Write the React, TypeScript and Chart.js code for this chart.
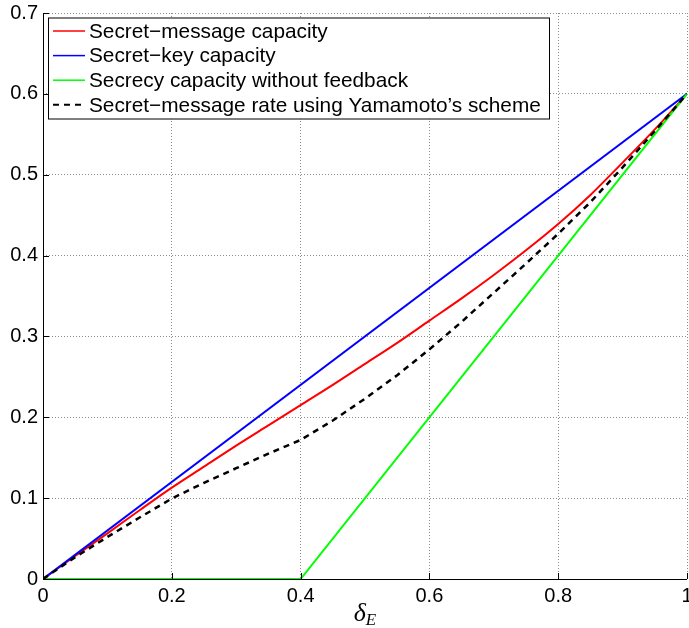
import React, { useEffect, useRef } from "react";
import { Chart, registerables } from "chart.js";

Chart.register(...registerables);

// ---- data ----
const deltaE = [0, 0.05, 0.1, 0.15, 0.2, 0.25, 0.3, 0.35, 0.4, 0.45, 0.5, 0.55, 0.6, 0.65, 0.7, 0.75, 0.8, 0.85, 0.9, 0.95, 1];
const secretMessageCapacity = [0, 0.0285, 0.0565, 0.085, 0.113, 0.139, 0.165, 0.19, 0.215, 0.24, 0.266, 0.292, 0.3195, 0.347, 0.376, 0.4065, 0.439, 0.475, 0.515, 0.556, 0.6];
const yamamotoRate = [0, 0.027, 0.052, 0.076, 0.0995, 0.119, 0.137, 0.155, 0.172, 0.196, 0.223, 0.252, 0.284, 0.318, 0.354, 0.39, 0.427, 0.466, 0.509, 0.554, 0.6];
const secretKeyX = [0, 1];
const secretKeyCapacity = [0, 0.6];
const noFeedbackX = [0, 0.4, 1];
const noFeedbackCapacity = [0, 0, 0.6];

const seriesLabels = [
  "Secret\u2212message capacity",
  "Secret\u2212key capacity",
  "Secrecy capacity without feedback",
  "Secret\u2212message rate using Yamamoto\u2019s scheme",
];

const xTickValues = [0, 0.2, 0.4, 0.6, 0.8, 1];
const xTickLabels = ["0", "0.2", "0.4", "0.6", "0.8", "1"];
const yTickValues = [0, 0.1, 0.2, 0.3, 0.4, 0.5, 0.6, 0.7];
const yTickLabels = ["0", "0.1", "0.2", "0.3", "0.4", "0.5", "0.6", "0.7"];

const toPoints = (xs: number[], ys: number[]) => xs.map((x, i) => ({ x, y: ys[i] }));

const FONT = "'Liberation Sans', Arial, Helvetica, sans-serif";

const legendPlugin = {
  id: "matlabLegend",
  afterDraw(chart: any) {
    const ctx = chart.ctx as CanvasRenderingContext2D;
    const bx = 48, by = 17.5, bw = 501, bh = 101;
    ctx.save();
    ctx.fillStyle = "#ffffff";
    ctx.fillRect(bx, by, bw, bh);
    ctx.strokeStyle = "#000000";
    ctx.lineWidth = 1;
    ctx.setLineDash([]);
    ctx.strokeRect(bx + 0.5, by + 0.5, bw, bh);
    ctx.font = `20.8px ${FONT}`;
    ctx.textBaseline = "middle";
    ctx.textAlign = "left";
    chart.data.datasets.forEach((ds: any, i: number) => {
      const cy = 31 + i * 24.6;
      ctx.beginPath();
      ctx.strokeStyle = ds.borderColor;
      ctx.lineWidth = ds.borderDash && ds.borderDash.length ? 2 : 1.5;
      ctx.setLineDash(ds.borderDash || []);
      ctx.moveTo(53, cy);
      ctx.lineTo(85, cy);
      ctx.stroke();
      ctx.setLineDash([]);
      ctx.fillStyle = "#000000";
      ctx.fillText(ds.label, 89, cy + 1);
    });
    ctx.restore();
  },
};

const axisDecorPlugin = {
  id: "axisDecor",
  afterDatasetsDraw(chart: any) {
    const ctx = chart.ctx as CanvasRenderingContext2D;
    const { left, bottom, right, top } = chart.chartArea;
    const xs = chart.scales.x;
    const ys = chart.scales.y;
    ctx.save();
    ctx.strokeStyle = "#000000";
    ctx.lineWidth = 1;
    ctx.setLineDash([]);
    ctx.beginPath();
    xTickValues.forEach((v) => {
      const px = Math.round(xs.getPixelForValue(v)) + 0.5;
      ctx.moveTo(px, bottom);
      ctx.lineTo(px, bottom - 6);
    });
    yTickValues.forEach((v) => {
      const py = Math.round(ys.getPixelForValue(v)) + 0.5;
      ctx.moveTo(left, py);
      ctx.lineTo(left + 6, py);
    });
    ctx.stroke();
    ctx.beginPath();
    ctx.moveTo(left + 0.5, top);
    ctx.lineTo(left + 0.5, bottom);
    ctx.moveTo(left, bottom + 0.5);
    ctx.lineTo(right, bottom + 0.5);
    ctx.stroke();
    // axis title: delta_E
    const cx = (left + right) / 2;
    ctx.fillStyle = "#000000";
    ctx.textBaseline = "alphabetic";
    ctx.textAlign = "left";
    ctx.font = "italic 26px 'Liberation Serif', 'Times New Roman', serif";
    const dw = ctx.measureText("\u03B4").width;
    ctx.font = "italic 17px 'Liberation Serif', 'Times New Roman', serif";
    const ew = ctx.measureText("E").width;
    const start = cx - (dw + ew) / 2;
    ctx.font = "italic 26px 'Liberation Serif', 'Times New Roman', serif";
    ctx.fillText("\u03B4", start, 621);
    ctx.font = "italic 17px 'Liberation Serif', 'Times New Roman', serif";
    ctx.fillText("E", start + dw, 625);
    ctx.restore();
  },
};

export default function App() {
  const ref = useRef<HTMLCanvasElement | null>(null);
  useEffect(() => {
    document.body.style.margin = "0";
    const canvas = ref.current;
    if (!canvas) return;
    const chart = new Chart(canvas, {
      type: "line",
      data: {
        datasets: [
          {
            label: seriesLabels[0],
            data: toPoints(deltaE, secretMessageCapacity),
            borderColor: "#ff0000",
            borderWidth: 2,
            pointRadius: 0,
            cubicInterpolationMode: "monotone",
            order: 4,
          },
          {
            label: seriesLabels[1],
            data: toPoints(secretKeyX, secretKeyCapacity),
            borderColor: "#0000ff",
            borderWidth: 2,
            pointRadius: 0,
            tension: 0,
            order: 3,
          },
          {
            label: seriesLabels[2],
            data: toPoints(noFeedbackX, noFeedbackCapacity),
            borderColor: "#00ff00",
            borderWidth: 2,
            pointRadius: 0,
            tension: 0,
            order: 2,
          },
          {
            label: seriesLabels[3],
            data: toPoints(deltaE, yamamotoRate),
            borderColor: "#000000",
            borderWidth: 2.5,
            borderDash: [6, 5],
            pointRadius: 0,
            tension: 0,
            order: 1,
          },
        ],
      },
      options: {
        animation: false,
        responsive: false,
        events: [],
        layout: { padding: { top: 13, right: 2, left: 0, bottom: 0 } },
        plugins: {
          legend: { display: false },
          tooltip: { enabled: false },
          title: { display: false },
        },
        scales: {
          x: {
            type: "linear",
            min: 0,
            max: 1,
            afterBuildTicks: (s: any) => {
              s.ticks = xTickValues.map((v) => ({ value: v }));
            },
            afterFit: (s: any) => {
              s.height = 49;
              s.paddingLeft = 0;
              s.paddingRight = 0;
              s.paddingTop = 0;
              s.paddingBottom = 0;
            },
            ticks: {
              callback: (_v: any, i: number) => xTickLabels[i],
              font: { family: FONT, size: 20 },
              color: "#000000",
              padding: 5,
              maxRotation: 0,
              autoSkip: false,
            },
            grid: {
              color: "rgba(0,0,0,0.45)",
              lineWidth: 1,
              drawTicks: false,
            },
            border: { display: false, dash: [1, 2] },
          },
          y: {
            type: "linear",
            min: 0,
            max: 0.7,
            afterBuildTicks: (s: any) => {
              s.ticks = yTickValues.map((v) => ({ value: v }));
            },
            afterFit: (s: any) => {
              s.width = 43;
              s.paddingLeft = 0;
              s.paddingRight = 0;
              s.paddingTop = 0;
              s.paddingBottom = 0;
            },
            ticks: {
              callback: (_v: any, i: number) => yTickLabels[i],
              font: { family: FONT, size: 20 },
              color: "#000000",
              padding: 5,
              autoSkip: false,
            },
            grid: {
              color: "rgba(0,0,0,0.45)",
              lineWidth: 1,
              drawTicks: false,
            },
            border: { display: false, dash: [1, 2] },
          },
        },
      },
      plugins: [axisDecorPlugin, legendPlugin],
    } as any);
    return () => chart.destroy();
  }, []);
  return <canvas ref={ref} width={689} height={628} style={{ display: "block" }} />;
}
